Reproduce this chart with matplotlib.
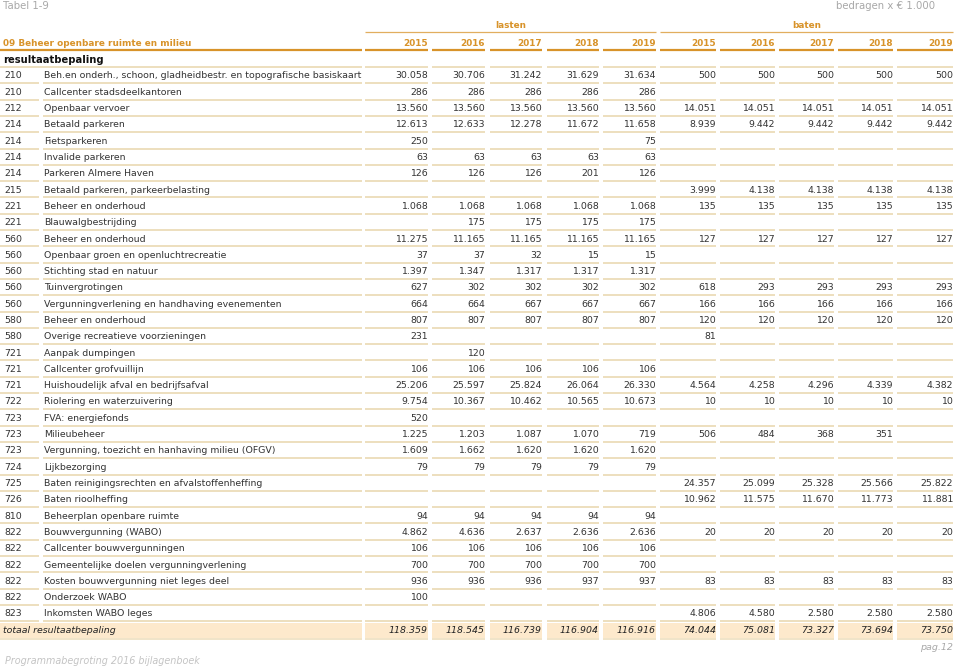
import matplotlib
matplotlib.use("Agg")
import matplotlib.pyplot as plt
from matplotlib.patches import Rectangle

plt.rcParams['font.family'] = ['DejaVu Sans Condensed', 'DejaVu Sans']

title_left = "Tabel 1-9"
title_right = "bedragen x \u20ac 1.000"
footer_left = "Programmabegroting 2016 bijlagenboek"
footer_right = "pag.12"
section_title = "09 Beheer openbare ruimte en milieu"
group_labels = ["lasten", "baten"]
years = ["2015", "2016", "2017", "2018", "2019"]
subheader = "resultaatbepaling"

codes = ["210", "210", "212", "214", "214", "214", "214", "215", "221", "221",
         "560", "560", "560", "560", "560", "580", "580", "721", "721", "721",
         "722", "723", "723", "723", "724", "725", "726", "810", "822", "822",
         "822", "822", "822", "823"]

descriptions = [
    "Beh.en onderh., schoon, gladheidbestr. en topografische basiskaart",
    "Callcenter stadsdeelkantoren",
    "Openbaar vervoer",
    "Betaald parkeren",
    "Fietsparkeren",
    "Invalide parkeren",
    "Parkeren Almere Haven",
    "Betaald parkeren, parkeerbelasting",
    "Beheer en onderhoud",
    "Blauwalgbestrijding",
    "Beheer en onderhoud",
    "Openbaar groen en openluchtrecreatie",
    "Stichting stad en natuur",
    "Tuinvergrotingen",
    "Vergunningverlening en handhaving evenementen",
    "Beheer en onderhoud",
    "Overige recreatieve voorzieningen",
    "Aanpak dumpingen",
    "Callcenter grofvuillijn",
    "Huishoudelijk afval en bedrijfsafval",
    "Riolering en waterzuivering",
    "FVA: energiefonds",
    "Milieubeheer",
    "Vergunning, toezicht en hanhaving milieu (OFGV)",
    "Lijkbezorging",
    "Baten reinigingsrechten en afvalstoffenheffing",
    "Baten rioolheffing",
    "Beheerplan openbare ruimte",
    "Bouwvergunning (WABO)",
    "Callcenter bouwvergunningen",
    "Gemeentelijke doelen vergunningverlening",
    "Kosten bouwvergunning niet leges deel",
    "Onderzoek WABO",
    "Inkomsten WABO leges",
]

N = None
lasten = [
    [30058, 30706, 31242, 31629, 31634],
    [286, 286, 286, 286, 286],
    [13560, 13560, 13560, 13560, 13560],
    [12613, 12633, 12278, 11672, 11658],
    [250, N, N, N, 75],
    [63, 63, 63, 63, 63],
    [126, 126, 126, 201, 126],
    [N, N, N, N, N],
    [1068, 1068, 1068, 1068, 1068],
    [N, 175, 175, 175, 175],
    [11275, 11165, 11165, 11165, 11165],
    [37, 37, 32, 15, 15],
    [1397, 1347, 1317, 1317, 1317],
    [627, 302, 302, 302, 302],
    [664, 664, 667, 667, 667],
    [807, 807, 807, 807, 807],
    [231, N, N, N, N],
    [N, 120, N, N, N],
    [106, 106, 106, 106, 106],
    [25206, 25597, 25824, 26064, 26330],
    [9754, 10367, 10462, 10565, 10673],
    [520, N, N, N, N],
    [1225, 1203, 1087, 1070, 719],
    [1609, 1662, 1620, 1620, 1620],
    [79, 79, 79, 79, 79],
    [N, N, N, N, N],
    [N, N, N, N, N],
    [94, 94, 94, 94, 94],
    [4862, 4636, 2637, 2636, 2636],
    [106, 106, 106, 106, 106],
    [700, 700, 700, 700, 700],
    [936, 936, 936, 937, 937],
    [100, N, N, N, N],
    [N, N, N, N, N],
]

baten = [
    [500, 500, 500, 500, 500],
    [N, N, N, N, N],
    [14051, 14051, 14051, 14051, 14051],
    [8939, 9442, 9442, 9442, 9442],
    [N, N, N, N, N],
    [N, N, N, N, N],
    [N, N, N, N, N],
    [3999, 4138, 4138, 4138, 4138],
    [135, 135, 135, 135, 135],
    [N, N, N, N, N],
    [127, 127, 127, 127, 127],
    [N, N, N, N, N],
    [N, N, N, N, N],
    [618, 293, 293, 293, 293],
    [166, 166, 166, 166, 166],
    [120, 120, 120, 120, 120],
    [81, N, N, N, N],
    [N, N, N, N, N],
    [N, N, N, N, N],
    [4564, 4258, 4296, 4339, 4382],
    [10, 10, 10, 10, 10],
    [N, N, N, N, N],
    [506, 484, 368, 351, N],
    [N, N, N, N, N],
    [N, N, N, N, N],
    [24357, 25099, 25328, 25566, 25822],
    [10962, 11575, 11670, 11773, 11881],
    [N, N, N, N, N],
    [20, 20, 20, 20, 20],
    [N, N, N, N, N],
    [N, N, N, N, N],
    [83, 83, 83, 83, 83],
    [N, N, N, N, N],
    [4806, 4580, 2580, 2580, 2580],
]

total_label = "totaal resultaatbepaling"
total_lasten = [118359, 118545, 116739, 116904, 116916]
total_baten = [74044, 75081, 73327, 73694, 73750]


def fmt(v):
    if v is None:
        return ""
    return f"{v:,}".replace(",", ".")


W, H = 959, 668
fig = plt.figure(figsize=(W / 100, H / 100), dpi=100)
ax = fig.add_axes([0, 0, 1, 1])
ax.set_xlim(0, W)
ax.set_ylim(H, 0)
ax.axis("off")

ORANGE = "#d8932a"
LINE = "#ecdcb9"
TXT = "#333333"
GREY = "#a8a8a8"
TOTBG = "#fde9cc"
FS = 6.75
FSH = 6.4

# column geometry (pixels)
col_segs = [(365, 428), (432, 485), (490, 542), (547, 599), (603, 656),
            (660, 716), (720, 775), (779, 834), (838, 893), (897, 953)]
code_seg = (0, 39)
desc_seg = (43, 362)
code_x = 4
desc_x = 44

y0 = 76.0
dy = 16.3

# top texts
ax.text(3, 6, title_left, color=GREY, fontsize=7.3, va="center", ha="left")
ax.text(935, 6, title_right, color=GREY, fontsize=7.3, va="center", ha="right")

# group headers
lasten_span = (col_segs[0][0], col_segs[4][1])
baten_span = (col_segs[5][0], col_segs[9][1])
for lab, (a, b) in zip(group_labels, [lasten_span, baten_span]):
    ax.text((a + b) / 2, 25, lab, color=ORANGE, fontsize=FSH, fontweight="bold",
            ha="center", va="center")
    ax.plot([a, b], [32, 32], color=ORANGE, lw=0.9, alpha=0.75, solid_capstyle="butt")

# header row
ax.text(3, 43, section_title, color=ORANGE, fontsize=FSH, fontweight="bold",
        ha="left", va="center")
ax.plot([0, desc_seg[1]], [49.5, 49.5], color=ORANGE, lw=1.6, solid_capstyle="butt")
for i, (a, b) in enumerate(col_segs):
    ax.text(b, 43, years[i % 5], color=ORANGE, fontsize=FSH, fontweight="bold",
            ha="right", va="center")
    ax.plot([a, b], [49.5, 49.5], color=ORANGE, lw=1.6, solid_capstyle="butt")

# subheader
ax.text(3, 60, subheader, color="#111111", fontsize=7.2, fontweight="bold",
        ha="left", va="center")
ax.plot([0, desc_seg[1]], [66.5, 66.5], color=LINE, lw=1.3, solid_capstyle="butt")
for a, b in col_segs:
    ax.plot([a, b], [66.5, 66.5], color=LINE, lw=1.3, solid_capstyle="butt")

# body rows
for r, (code, desc) in enumerate(zip(codes, descriptions)):
    y = y0 + r * dy
    ax.text(code_x, y, code, color=TXT, fontsize=FS, ha="left", va="center")
    ax.text(desc_x, y, desc, color=TXT, fontsize=FS, ha="left", va="center")
    vals = lasten[r] + baten[r]
    for (a, b), v in zip(col_segs, vals):
        ax.text(b, y, fmt(v), color=TXT, fontsize=FS, ha="right", va="center")
    yl = y + 7.3
    ax.plot(code_seg, [yl, yl], color=LINE, lw=1.3, solid_capstyle="butt")
    ax.plot(desc_seg, [yl, yl], color=LINE, lw=1.3, solid_capstyle="butt")
    for a, b in col_segs:
        ax.plot([a, b], [yl, yl], color=LINE, lw=1.3, solid_capstyle="butt")

# total row
yt = y0 + len(codes) * dy
ax.add_patch(Rectangle((0, yt - 7.5), desc_seg[1], 15.5, color=TOTBG, lw=0))
for a, b in col_segs:
    ax.add_patch(Rectangle((a, yt - 7.5), b - a, 15.5, color=TOTBG, lw=0))
ax.text(3, yt, total_label, color="#222222", fontsize=FS, style="italic",
        ha="left", va="center")
for (a, b), v in zip(col_segs, total_lasten + total_baten):
    ax.text(b, yt, fmt(v), color="#222222", fontsize=FS, style="italic",
            ha="right", va="center")
ax.plot([0, desc_seg[1]], [yt + 8.5, yt + 8.5], color=LINE, lw=1.1, solid_capstyle="butt")
for a, b in col_segs:
    ax.plot([a, b], [yt + 8.5, yt + 8.5], color=LINE, lw=1.1, solid_capstyle="butt")

# footer
ax.text(953, 648, footer_right, color=GREY, fontsize=6.8, style="italic",
        ha="right", va="center")
ax.text(5, 661, footer_left, color="#c4c4c4", fontsize=6.9, style="italic",
        ha="left", va="center")

fig.savefig("out.png", dpi=100)
